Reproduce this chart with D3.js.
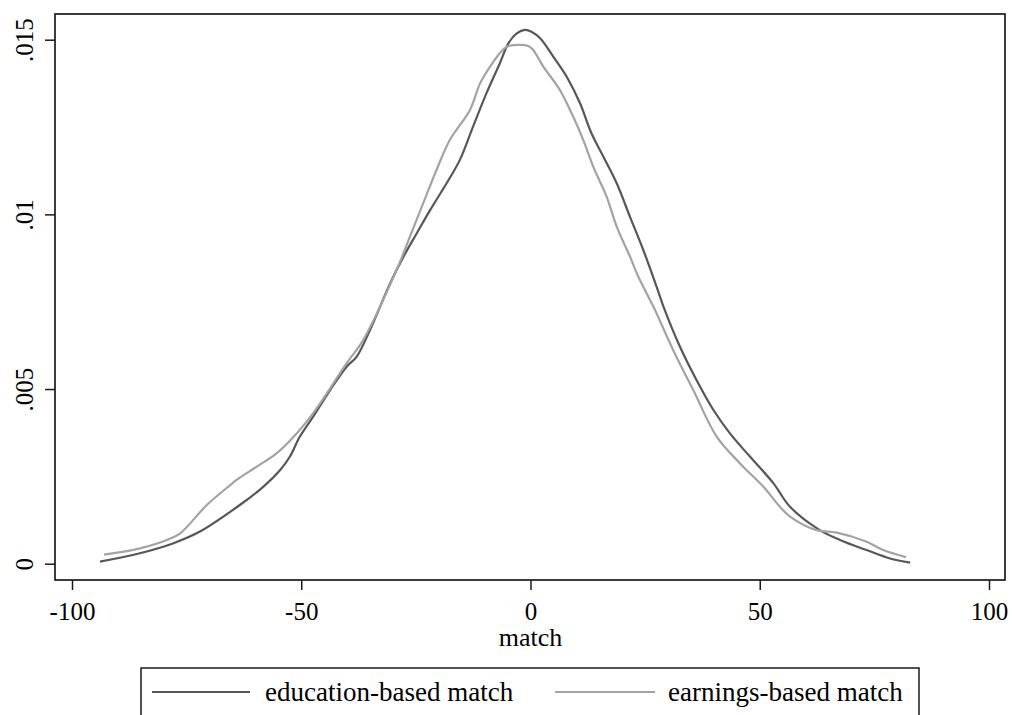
<!DOCTYPE html>
<html>
<head>
<meta charset="utf-8">
<script src="https://cdn.jsdelivr.net/npm/d3@7"></script>
<style>
  html, body { margin: 0; padding: 0; background: #fff; }
  svg { display: block; font-family: "Liberation Serif", "DejaVu Serif", serif; }
</style>
</head>
<body>
<svg id="chart" width="1012" height="715"></svg>
<script>
// Kernel density estimates of the match score, two matching schemes
const educationX = [-93.9, -85.2, -78.0, -72.1, -63.4, -58.3, -54.6, -52.5, -50.3, -47.4, -43.7, -40.1, -37.9, -35.0,
  -30.6, -27.7, -24.8, -21.9, -18.3, -15.4, -12.8, -9.6, -6.7, -4.8, -3.0, -1.2, 0.3, 2.1, 5.0, 7.9, 10.8, 13.3,
  15.9, 18.8, 21.7, 24.6, 27.5, 29.0, 32.6, 36.2, 39.9, 43.5, 47.9, 53.0, 56.6, 63.1, 67.5, 73.3, 78.4, 82.8];
const educationY = [0.00006, 0.00030, 0.00058, 0.00092, 0.00168, 0.00220, 0.00268, 0.00306, 0.00364, 0.00421, 0.00497,
  0.00564, 0.00593, 0.00669, 0.00803, 0.00879, 0.00946, 0.01012, 0.01089, 0.01156, 0.01242, 0.01347, 0.01432,
  0.01490, 0.01518, 0.01528, 0.01522, 0.01504, 0.01451, 0.01394, 0.01318, 0.01232, 0.01165, 0.01089, 0.00993,
  0.00898, 0.00793, 0.00736, 0.00621, 0.00526, 0.00440, 0.00373, 0.00306, 0.00230, 0.00163, 0.00096, 0.00068,
  0.00039, 0.00015, 0.00003];

const earningsX = [-93.0, -85.2, -79.3, -76.4, -70.6, -65.5, -64.1, -59.7, -55.4, -51.0, -47.4, -43.7, -40.1, -36.5,
  -29.2, -26.3, -23.4, -20.5, -17.6, -13.2, -11.0, -8.8, -6.7, -5.2, -2.3, -0.5, 0.5, 2.8, 6.4, 9.3, 11.5, 13.7,
  16.6, 18.8, 21.7, 23.5, 26.8, 31.1, 35.5, 40.6, 45.7, 50.8, 54.4, 56.6, 62.4, 66.8, 73.3, 76.9, 81.9];
const earningsY = [0.00026, 0.00044, 0.00068, 0.00087, 0.00168, 0.00225, 0.00240, 0.00278, 0.00316, 0.00373, 0.00431,
  0.00502, 0.00574, 0.00640, 0.00841, 0.00936, 0.01032, 0.01127, 0.01213, 0.01299, 0.01375, 0.01423, 0.01461,
  0.01480, 0.01485, 0.01482, 0.01472, 0.01423, 0.01356, 0.01280, 0.01213, 0.01136, 0.01051, 0.00965, 0.00879,
  0.00822, 0.00736, 0.00612, 0.00497, 0.00364, 0.00287, 0.00220, 0.00163, 0.00135, 0.00096, 0.00089, 0.00063,
  0.00039, 0.00019];

const xTicks = [-100, -50, 0, 50, 100];
const xTickLabels = ["-100", "-50", "0", "50", "100"];
const yTicks = [0, 0.005, 0.01, 0.015];
const yTickLabels = ["0", ".005", ".01", ".015"];
const seriesNames = ["education-based match", "earnings-based match"];
const seriesColors = ["#575757", "#a3a3a3"];

const svg = d3.select("#chart");
const frame = { left: 55, top: 14, right: 1005, bottom: 580 };

const x = d3.scaleLinear().domain([-100, 100]).range([72, 989]);
const y = d3.scaleLinear().domain([0, 0.015]).range([563.7, 39.7]);

// plot region frame
svg.append("rect")
  .attr("x", frame.left).attr("y", frame.top)
  .attr("width", frame.right - frame.left).attr("height", frame.bottom - frame.top)
  .attr("fill", "none").attr("stroke", "#1a1a1a").attr("stroke-width", 1.7);

// density curves
const line = d3.line()
  .x(d => x(d[0])).y(d => y(d[1]))
  .curve(d3.curveCatmullRom.alpha(0.5));

const series = [
  d3.zip(educationX, educationY),
  d3.zip(earningsX, earningsY)
];
series.forEach((pts, i) => {
  svg.append("path")
    .datum(pts)
    .attr("d", line)
    .attr("fill", "none")
    .attr("stroke", seriesColors[i])
    .attr("stroke-width", 2.2)
    .attr("stroke-linejoin", "round");
});

// y axis
const yAxis = svg.append("g")
  .attr("transform", `translate(${frame.left},0)`)
  .call(d3.axisLeft(y).tickValues(yTicks).tickSize(10).tickSizeOuter(0)
    .tickFormat((d, i) => yTickLabels[i]));
yAxis.select(".domain").remove();
yAxis.selectAll(".tick line").attr("stroke", "#1a1a1a").attr("stroke-width", 1.5);
yAxis.selectAll(".tick text")
  .attr("x", null).attr("dy", null)
  .attr("transform", "translate(-22,0) rotate(-90)")
  .attr("text-anchor", "middle")
  .attr("fill", "#000")
  .style("font-size", "25px")
  .style("font-family", "'Liberation Serif', serif");

// x axis
const xAxis = svg.append("g")
  .attr("transform", `translate(0,${frame.bottom})`)
  .call(d3.axisBottom(x).tickValues(xTicks).tickSize(10).tickSizeOuter(0)
    .tickFormat((d, i) => xTickLabels[i]));
xAxis.select(".domain").remove();
xAxis.selectAll(".tick line").attr("stroke", "#1a1a1a").attr("stroke-width", 1.5);
xAxis.selectAll(".tick text")
  .attr("y", 40).attr("dy", null)
  .attr("fill", "#000")
  .style("font-size", "25px")
  .style("font-family", "'Liberation Serif', serif");

// axis title
svg.append("text")
  .attr("x", x(0)).attr("y", 646)
  .attr("text-anchor", "middle")
  .style("font-size", "26px")
  .text("match");

// legend
const legend = svg.append("g");
legend.append("rect")
  .attr("x", 141).attr("y", 668).attr("width", 778).attr("height", 70)
  .attr("fill", "#fff").attr("stroke", "#1a1a1a").attr("stroke-width", 1.5);
const legendItems = [
  { x1: 152, x2: 250, tx: 265 },
  { x1: 555, x2: 655, tx: 668 }
];
legendItems.forEach((it, i) => {
  legend.append("line")
    .attr("x1", it.x1).attr("x2", it.x2).attr("y1", 692).attr("y2", 692)
    .attr("stroke", seriesColors[i]).attr("stroke-width", 2.2);
  legend.append("text")
    .attr("x", it.tx).attr("y", 701)
    .style("font-size", "27px")
    .text(seriesNames[i]);
});
</script>
</body>
</html>
